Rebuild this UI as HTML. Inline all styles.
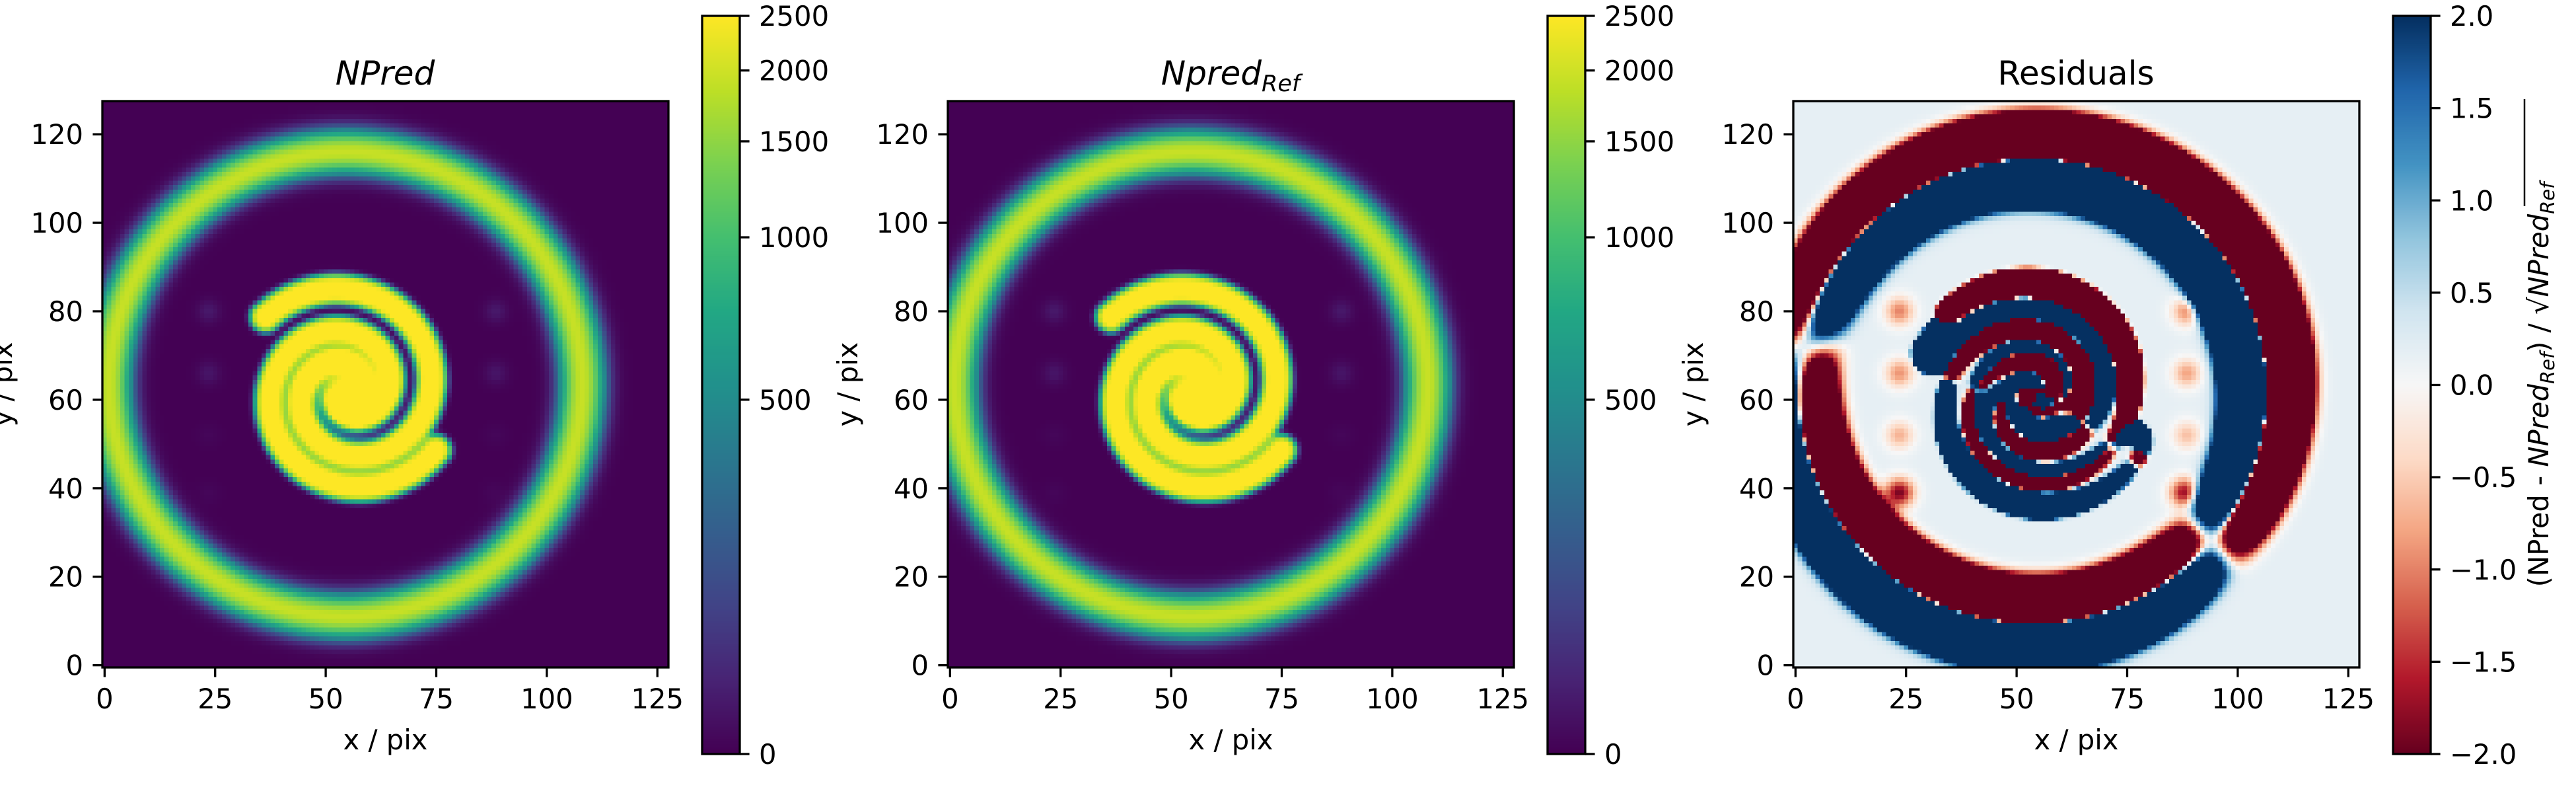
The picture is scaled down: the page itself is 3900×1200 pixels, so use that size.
<!DOCTYPE html>
<html><head><meta charset="utf-8">
<style>
html,body{margin:0;padding:0;background:#fff;}
#root{position:relative;width:3900px;height:1200px;overflow:hidden;background:#fff;}
canvas{position:absolute;image-rendering:pixelated;}
svg{position:absolute;left:0;top:0;}
text{font-family:"DejaVu Sans","Liberation Sans",sans-serif;fill:#000;}
</style></head>
<body>
<div id="root">
<canvas id="c1" width="128" height="128" style="left:155px;top:153px;width:857px;height:857px"></canvas>
<canvas id="c2" width="128" height="128" style="left:1435px;top:153px;width:857px;height:857px"></canvas>
<canvas id="c3" width="128" height="128" style="left:2715px;top:153px;width:857px;height:857px"></canvas>
<canvas id="cb1" width="1" height="256" style="left:1063px;top:24px;width:57px;height:1117px;image-rendering:auto"></canvas>
<canvas id="cb2" width="1" height="256" style="left:2343px;top:24px;width:57px;height:1117px;image-rendering:auto"></canvas>
<canvas id="cb3" width="1" height="256" style="left:3623px;top:24px;width:57px;height:1117px;image-rendering:auto"></canvas>
<svg id="ov" width="3900" height="1200"></svg>
</div>
<script>
// ---- data (pixel-space model parameters of the images) ----
const xTicks = [0, 25, 50, 75, 100, 125];
const yTicks = [0, 20, 40, 60, 80, 100, 120];
const cbCountTicks = [0, 500, 1000, 1500, 2000, 2500];
const cbCountFrac = [0, 0.48, 0.70, 0.83, 0.926, 1.0];
const cbResTicks = [-2.0, -1.5, -1.0, -0.5, 0.0, 0.5, 1.0, 1.5, 2.0];
const ringCenter = [54.5, 63.5];
const ringRadii = [53.5, 52.5];
const ringPeak = [1950];
const spiralCenter = [55, 62];
const spiralTipAngleDeg = [138, -34];
const spiralTipRadius = [25, 24];
const spiralPitch = [2.6];
const spiralPeak = [2800];
const coreAmp = [3200];
const dotX = [23.5, 23.5, 23.5, 23.5, 88.5, 88.5, 88.5, 88];
const dotY = [80, 66, 52, 39, 80, 66, 52, 39];
const dotCounts = [70, 60, 15, 15, 70, 60, 15, 15];
const dotResid = [-1.0, -0.9, -0.7, -1.9, -1.0, -0.8, -0.6, -1.8];
const predShift = [-1.8, -3.2];
const predRadiusDelta = [-1.2, 0];
const predRotDeg = [14];
const residBaseline = [0.18];

const N = 128, L = [155, 1435, 2715], T = 153, S = 857, U = S / 128;
const CBX = [1063, 2343, 3623], CBT = 24, CBH = 1117, CBW = 57;

function countModel(x, y, sx, sy, rot, drx, dots) {
  let v = 0;
  const xx = x - sx, yy = y - sy;
  const dx = (xx - ringCenter[0]) / (ringRadii[0] + drx), dy = (yy - ringCenter[1]) / ringRadii[1];
  const d = (Math.sqrt(dx * dx + dy * dy) - 1) * 53;
  v += ringPeak[0] * Math.exp(-d * d / (2 * 3.0 * 3.0));
  const px = xx - spiralCenter[0], py = yy - spiralCenter[1];
  const r = Math.sqrt(px * px + py * py);
  const th = Math.atan2(py, px) - rot;
  for (let a = 0; a < spiralTipAngleDeg.length; a++) {
    const tt = spiralTipAngleDeg[a] * Math.PI / 180, rt = spiralTipRadius[a];
    const dm = ((tt - th) % (2 * Math.PI) + 2 * Math.PI) % (2 * Math.PI);
    let best = 1e9;
    for (let k = 0; k < 4; k++) {
      const rs = rt - spiralPitch[0] * (dm + 2 * Math.PI * k);
      if (rs < 1) break;
      best = Math.min(best, Math.abs(r - rs));
    }
    const tx = spiralCenter[0] + rt * Math.cos(tt + rot), ty = spiralCenter[1] + rt * Math.sin(tt + rot);
    best = Math.min(best, Math.hypot(xx - tx, yy - ty));
    v += spiralPeak[0] * Math.exp(-Math.pow(best / 3.2, 4));
  }
  v += coreAmp[0] * Math.exp(-r * r / (2 * 4.5 * 4.5));
  if (dots) {
    for (let i = 0; i < dotX.length; i++) {
      const q = (x - dotX[i]) ** 2 + (y - dotY[i]) ** 2;
      v += dotCounts[i] * Math.exp(-q / (2 * 1.8 * 1.8));
    }
  }
  return v;
}
function lerpStops(stops, t) {
  t = Math.max(0, Math.min(1, t));
  const n = stops.length - 1, f = t * n, i = Math.min(n - 1, Math.floor(f)), u = f - i;
  const a = stops[i], c = stops[i + 1];
  return [0, 1, 2].map(k => Math.round(a[k] + (c[k] - a[k]) * u));
}
function hex(h) { return [parseInt(h.substr(1, 2), 16), parseInt(h.substr(3, 2), 16), parseInt(h.substr(5, 2), 16)]; }
const VIR = ["#440154","#482475","#414487","#355f8d","#2a788e","#21918c","#22a884","#44bf70","#7ad151","#bddf26","#fde725"].map(hex);
const RDBU = ["#67001f","#b2182b","#d6604d","#f4a582","#fddbc7","#f7f7f7","#d1e5f0","#92c5de","#4393c3","#2166ac","#053061"].map(hex);
function countNorm(v) {
  if (v <= 0) return 0;
  for (let i = 1; i < cbCountTicks.length; i++) {
    if (v <= cbCountTicks[i]) {
      const u = (v - cbCountTicks[i - 1]) / (cbCountTicks[i] - cbCountTicks[i - 1]);
      return cbCountFrac[i - 1] + u * (cbCountFrac[i] - cbCountFrac[i - 1]);
    }
  }
  return 1;
}
function paint(id, fn) {
  const c = document.getElementById(id), ctx = c.getContext('2d');
  const img = ctx.createImageData(N, N);
  for (let j = 0; j < N; j++) for (let i = 0; i < N; i++) {
    const y = N - 1 - j, col = fn(i, y), o = (j * N + i) * 4;
    img.data[o] = col[0]; img.data[o + 1] = col[1]; img.data[o + 2] = col[2]; img.data[o + 3] = 255;
  }
  ctx.putImageData(img, 0, 0);
}
const rot = predRotDeg[0] * Math.PI / 180;
paint('c1', (x, y) => lerpStops(VIR, countNorm(countModel(x, y, 0, 0, 0, 0, true))));
paint('c2', (x, y) => lerpStops(VIR, countNorm(countModel(x, y, 0, 0, 0, 0, true))));
paint('c3', (x, y) => {
  const ref = countModel(x, y, 0, 0, 0, 0, false);
  const pred = countModel(x, y, predShift[0], predShift[1], rot, predRadiusDelta[0], false);
  let res = (pred - ref) / Math.sqrt(ref + 20) + residBaseline[0];
  for (let i = 0; i < dotX.length; i++) {
    const q = (x - dotX[i]) ** 2 + (y - dotY[i]) ** 2;
    res += (dotResid[i] - residBaseline[0]) * Math.exp(-q / (2 * 2.3 * 2.3));
  }
  return lerpStops(RDBU, (res + 2) / 4);
});
function paintBar(id, stops) {
  const c = document.getElementById(id), ctx = c.getContext('2d');
  for (let j = 0; j < 256; j++) { const col = lerpStops(stops, 1 - j / 255); ctx.fillStyle = `rgb(${col})`; ctx.fillRect(0, j, 1, 1); }
}
paintBar('cb1', VIR); paintBar('cb2', VIR); paintBar('cb3', RDBU);

// ---- overlay ----
const NS = 'http://www.w3.org/2000/svg', ov = document.getElementById('ov');
function el(tag, attrs, txt) {
  const e = document.createElementNS(NS, tag);
  for (const k in attrs) e.setAttribute(k, attrs[k]);
  if (txt !== undefined) e.textContent = txt;
  ov.appendChild(e); return e;
}
const FS = 41.7;
for (let p = 0; p < 3; p++) {
  const l = L[p];
  for (const v of xTicks) {
    const x = l + (v + 0.5) * U;
    const t = el('line', { x1: x, x2: x, y1: T + S, y2: T + S + 14.6, stroke: '#000', 'stroke-width': 3.3 });
    
    
    const lb = el('text', { x: x, y: T + S + 62, 'text-anchor': 'middle', 'font-size': FS }, String(v));
    
    
  }
  for (const v of yTicks) {
    const y = T + S - (v + 0.5) * U;
    const t = el('line', { x1: l - 14.6, x2: l, y1: y, y2: y, stroke: '#000', 'stroke-width': 3.3 });
    
    
    const lb = el('text', { x: l - 29, y: y + 15, 'text-anchor': 'end', 'font-size': FS }, String(v));
    
    
  }
  const fr = el('rect', { x: l, y: T, width: S, height: S, fill: 'none', stroke: '#000', 'stroke-width': 3.3 });
  
  
  const xl = el('text', { x: l + S / 2, y: 1134, 'text-anchor': 'middle', 'font-size': FS }, 'x / pix');
  
  
  const yl = el('text', { x: 0, y: 0, 'text-anchor': 'middle', 'font-size': FS, transform: `translate(${l - 137},${T + S / 2}) rotate(-90)` }, 'y / pix');
  
  
  const cx = CBX[p];
  const cf = el('rect', { x: cx, y: CBT, width: CBW, height: CBH, fill: 'none', stroke: '#000', 'stroke-width': 3.3 });
  
  
  const ticks = p < 2 ? cbCountTicks : cbResTicks;
  ticks.forEach((v, i) => {
    const f = p < 2 ? cbCountFrac[i] : (v + 2) / 4;
    const y = CBT + CBH - f * CBH;
    const t = el('line', { x1: cx + CBW, x2: cx + CBW + 14.6, y1: y, y2: y, stroke: '#000', 'stroke-width': 3.3 });
    
    
    const s = p < 2 ? String(v) : (v < 0 ? '\u2212' + Math.abs(v).toFixed(1) : v.toFixed(1));
    const lb = el('text', { x: cx + CBW + 29, y: y + 15, 'font-size': FS }, s);
    
    
  });
}
</script>
<svg width="3900" height="1200" style="position:absolute;left:0;top:0">
<text x="583" y="128" text-anchor="middle" font-size="50" font-style="italic">NPred</text>
<text x="1863" y="128" text-anchor="middle" font-size="50" font-style="italic">Npred<tspan font-size="35" dy="10">Ref</tspan></text>
<text x="3143" y="128" text-anchor="middle" font-size="50">Residuals</text>
<g transform="translate(3858,582) rotate(-90)">
<text x="0" y="0" text-anchor="middle" font-size="41.7">(NPred - <tspan font-style="italic">NPred</tspan><tspan font-style="italic" font-size="29" dy="9">Ref</tspan><tspan dy="-9">) / √</tspan><tspan font-style="italic">NPred</tspan><tspan font-style="italic" font-size="29" dy="9">Ref</tspan></text>
<line x1="270" x2="432" y1="-36" y2="-36" stroke="#000" stroke-width="2.5"/>
</g>
</svg>
</body></html>
